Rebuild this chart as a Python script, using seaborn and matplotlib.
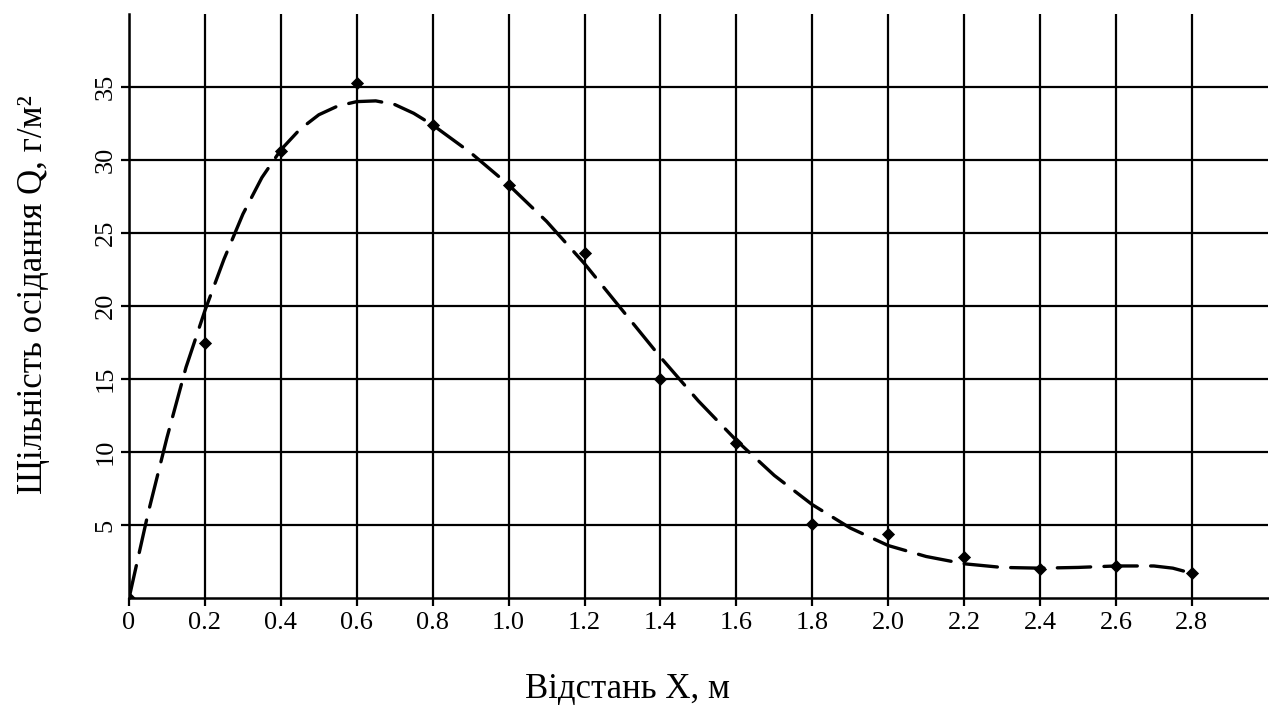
import matplotlib
matplotlib.use("Agg")
import matplotlib.pyplot as plt
import seaborn as sns
import pandas as pd

# measured points (diamonds)
x_points = [0.0, 0.2, 0.4, 0.6, 0.8, 1.0, 1.2, 1.4, 1.6, 1.8, 2.0, 2.2, 2.4, 2.6, 2.8]
q_points = [0.0, 17.5, 30.6, 35.3, 32.4, 28.3, 23.6, 15.0, 10.6, 5.05, 4.4, 2.8, 2.0, 2.2, 1.7]

# dashed trend curve
x_curve = [0.0, 0.05, 0.1, 0.15, 0.2, 0.25, 0.3, 0.35, 0.4, 0.45, 0.5, 0.55, 0.6, 0.65,
           0.7, 0.75, 0.8, 0.9, 1.0, 1.1, 1.2, 1.3, 1.4, 1.5, 1.6, 1.7, 1.8, 1.9,
           2.0, 2.1, 2.2, 2.3, 2.4, 2.5, 2.6, 2.7, 2.75, 2.8]
q_curve = [0.0, 5.8, 11.0, 15.8, 19.7, 23.2, 26.3, 28.8, 30.7, 32.1, 33.1, 33.7, 34.0, 34.05,
           33.8, 33.2, 32.4, 30.5, 28.3, 25.8, 22.9, 19.7, 16.5, 13.5, 10.8, 8.4, 6.4, 4.8,
           3.6, 2.85, 2.35, 2.1, 2.05, 2.1, 2.2, 2.2, 2.05, 1.7]

x_ticks = [0, 0.2, 0.4, 0.6, 0.8, 1.0, 1.2, 1.4, 1.6, 1.8, 2.0, 2.2, 2.4, 2.6, 2.8]
x_tick_labels = ["0", "0.2", "0.4", "0.6", "0.8", "1.0", "1.2", "1.4", "1.6", "1.8",
                 "2.0", "2.2", "2.4", "2.6", "2.8"]
y_ticks = [5, 10, 15, 20, 25, 30, 35]
y_tick_labels = ["5", "10", "15", "20", "25", "30", "35"]

sns.set_theme(style="white")
plt.rcParams['font.family'] = ['Liberation Serif', 'DejaVu Serif']

fig = plt.figure(figsize=(12.69, 7.18), dpi=100)
ax = fig.add_axes([0.1017, 0.167, 0.8973, 0.8135])

df_curve = pd.DataFrame({"x": x_curve, "q": q_curve})
df_pts = pd.DataFrame({"x": x_points, "q": q_points})

sns.lineplot(data=df_curve, x="x", y="q", ax=ax, color="black", linewidth=2.4,
             dashes=False, zorder=3)
line = ax.lines[-1]
line.set_dashes((10, 4))
line.set_solid_capstyle("round")
line.set_dash_capstyle("round")
line.set_solid_joinstyle("round")
sns.scatterplot(data=df_pts, x="x", y="q", ax=ax, color="black", marker="D",
                s=45, edgecolor="black", linewidth=0, zorder=4)

ax.set_xlim(0, 3.0)
ax.set_ylim(0, 40)
ax.set_xticks(x_ticks)
ax.set_xticklabels(x_tick_labels, fontsize=19)
ax.set_yticks(y_ticks)
ax.set_yticklabels(y_tick_labels, fontsize=19, rotation=90, va="center")

ax.grid(True, color="black", linewidth=1.6)
ax.set_axisbelow(True)
for side in ["top", "right"]:
    ax.spines[side].set_visible(False)
for side in ["left", "bottom"]:
    ax.spines[side].set_color("black")
    ax.spines[side].set_linewidth(1.8)

ax.tick_params(axis="both", which="major", direction="out", length=6, width=1.6,
               color="black", labelcolor="black", bottom=True, left=True)
ax.tick_params(axis="x", pad=4)
ax.tick_params(axis="y", pad=3)

ax.set_xlabel("Відстань X, м", fontsize=25, color="black")
ax.set_ylabel("Щільність осідання Q, г/м²", fontsize=25, color="black")
ax.xaxis.set_label_coords(0.438, -0.128)
ax.yaxis.set_label_coords(-0.069, 0.52)

fig.savefig("out.png", dpi=100, facecolor="white")
